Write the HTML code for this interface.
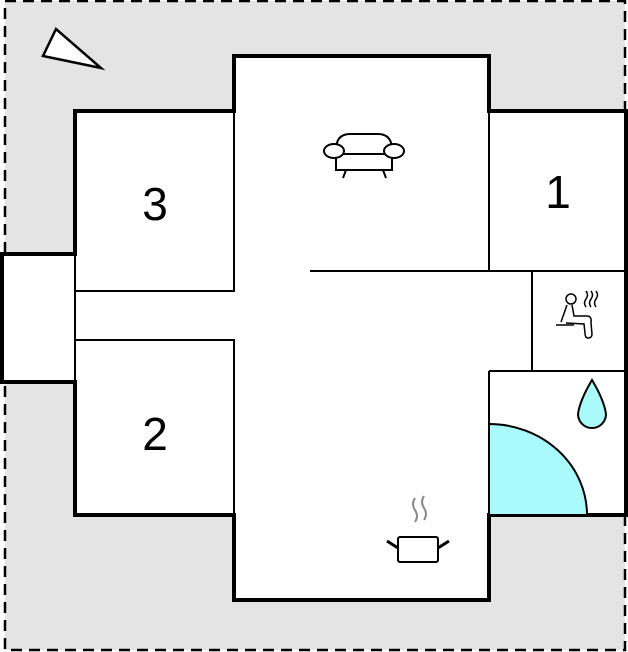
<!DOCTYPE html>
<html><head><style>html,body{margin:0;padding:0;background:#fff}svg{display:block}</style></head>
<body>
<svg width="628" height="652" viewBox="0 0 628 652" xmlns="http://www.w3.org/2000/svg">
<rect x="5" y="1" width="620" height="649" fill="#e4e4e4" stroke="#000" stroke-width="2.5" stroke-dasharray="11,7"/>
<polygon points="56,29 43,56 101,68" fill="#fff" stroke="#000" stroke-width="2.5" stroke-linejoin="miter"/>
<polygon points="234,56 489,56 489,111 626,111 626,515 489,515 489,600 234,600 234,515 75,515 75,382 2,382 2,254 75,254 75,111 234,111" fill="#fff" stroke="#000" stroke-width="4"/>
<path d="M489,515 L489,424 A98,91 0 0 1 587,515 Z" fill="#aafafc" stroke="#000" stroke-width="2"/>
<g stroke="#000" stroke-width="2" fill="none">
<path d="M234,111 V291 H75 M75,340 H234 V515 M75,254 V382"/>
<path d="M489,111 V271 M310,271 H626 M532,271 V371 M489,371 H626 M489,371 V515"/>
</g>
<text x="155" y="220" font-family="Liberation Sans, sans-serif" font-size="46" text-anchor="middle">3</text>
<text x="155" y="450" font-family="Liberation Sans, sans-serif" font-size="46" text-anchor="middle">2</text>
<text x="558" y="208" font-family="Liberation Sans, sans-serif" font-size="46" text-anchor="middle">1</text>
<g stroke="#000" stroke-width="2" fill="#fff">
<path d="M336,150 Q336,134 350,134 L378,134 Q392,134 392,150 L392,170 L336,170 Z"/>
<line x1="336" y1="154" x2="392" y2="154"/>
<ellipse cx="334" cy="151" rx="10" ry="7"/>
<ellipse cx="394" cy="151" rx="10" ry="7"/>
<line x1="346" y1="170" x2="343" y2="178"/>
<line x1="383" y1="170" x2="386" y2="178"/>
</g>
<g stroke="#000" stroke-width="1.5" fill="none">
<circle cx="571" cy="299" r="5"/>
<path d="M567,305 L561,322 M572,305 L574,316 L587,316 Q592,316 591,323 L592,334 Q592,338 588,338 Q585,338 585,333 L584,324 L566,323"/>
<line x1="556" y1="325" x2="574" y2="325"/>
<path d="M586,291 q3,4 0,8 q-3,4 0,8 M591,291 q3,4 0,8 q-3,4 0,8 M596,291 q3,4 0,8 q-3,4 0,8"/>
</g>
<path d="M592,380 Q580,400 578,414 A14,14 0 0 0 606,414 Q604,400 592,380 Z" fill="#aafafc" stroke="#000" stroke-width="2"/>
<g fill="none">
<path d="M415,498 q-4,6 0,12 q4,6 0,12 M424,496 q-4,6 0,12 q4,6 0,12" stroke="#888" stroke-width="2"/>
<rect x="398" y="537" width="40" height="25" rx="2" fill="#fff" stroke="#000" stroke-width="2"/>
<path d="M387,541 L398,548 M449,541 L438,548" stroke="#000" stroke-width="3"/>
</g>
</svg>
</body></html>
